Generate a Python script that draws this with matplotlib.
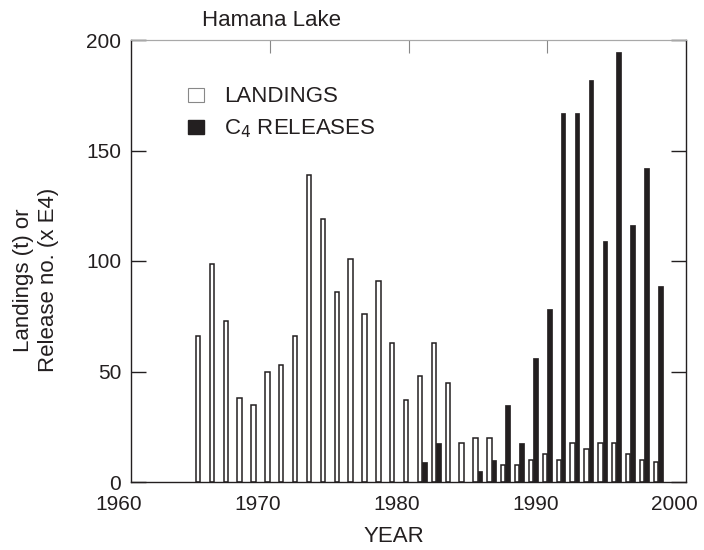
import numpy as np
import matplotlib
matplotlib.use("Agg")
from matplotlib import pyplot as plt
from matplotlib.patches import Patch
import matplotlib.transforms as mtransforms

# Hamana Lake landings (t) and C4 releases (x 10^4) by year
years = list(range(1965, 1999))
landings = [66, 98.5, 73, 38, 35, 50, 53, 66, 139, 119, 86, 101, 76, 91,
            63, 37, 48, 63, 45, 17.5, 20, 20, 7.5, 7.5, 10, 12.5, 10, 17.5,
            15, 17.5, 17.5, 12.5, 10, 9]
releases = [0, 0, 0, 0, 0, 0, 0, 0, 0, 0, 0, 0, 0, 0,
            0, 0, 9, 17.5, 0, 0, 5, 10, 35, 17.5, 56, 78.5, 167, 167,
            182, 109, 194.5, 116.5, 142, 88.5]

ink = '#231f20'
plt.rcParams['font.family'] = ['Liberation Sans', 'DejaVu Sans']

fig = plt.figure(figsize=(7.04, 5.5), dpi=100)
ax = fig.add_axes([131 / 704, 1 - 482 / 550, 555 / 704, 442 / 550])

x = np.array(years)
bw = 0.32
ax.bar(x - 0.17, landings, bw, color='white', edgecolor=ink, linewidth=1.1)
rel = np.array(releases, dtype=float)
mask = rel > 0
ax.bar(x[mask] + 0.15, rel[mask], bw, color=ink, edgecolor=ink, linewidth=0.5)

ax.set_xlim(1960, 2000)
ax.set_ylim(0, 200)
ax.set_xticks([1960, 1970, 1980, 1990, 2000])
ax.set_yticks([0, 50, 100, 150, 200])
ax.tick_params(axis='both', direction='in', labelsize=15, colors=ink)
ax.tick_params(axis='x', length=0, pad=9)
ax.tick_params(axis='y', length=11, width=1.0, right=True, pad=7)

# year labels sit a little left of their ticks in the original
shift = mtransforms.ScaledTranslation(-12 / 100, 0, fig.dpi_scale_trans)
for lab in ax.get_xticklabels():
    lab.set_transform(lab.get_transform() + shift)

# top ticks
sec = ax.secondary_xaxis('top')
sec.set_xticks([1970, 1980, 1990])
sec.tick_params(direction='in', length=9, labeltop=False, colors='#888888')
sec.spines['top'].set_color('#a8a8a8')

for side in ['left', 'right', 'bottom']:
    ax.spines[side].set_color(ink)
    ax.spines[side].set_linewidth(1.0)
ax.spines['top'].set_color('#a8a8a8')

ax.set_xlabel('YEAR', fontsize=16, color=ink, va='center')
ax.xaxis.set_label_coords((394 - 131) / 555, (482 - 536) / 442)

fig.text(36 / 704, 1 - 280 / 550, 'Landings (t) or\nRelease no. (x E4)',
         fontsize=16, color=ink, rotation=90, ha='center', va='center',
         multialignment='center', linespacing=1.3)

fig.text(202 / 704, 1 - 21 / 550, 'Hamana Lake', fontsize=16, color=ink,
         ha='left', va='center')

handles = [Patch(facecolor='white', edgecolor='#888888', linewidth=0.8),
           Patch(facecolor=ink, edgecolor=ink)]
ax.legend(handles, ['LANDINGS', 'C$_4$ RELEASES'], loc='upper left',
          bbox_to_anchor=(0.103, 0.895), frameon=False, fontsize=16,
          handlelength=0.7, handleheight=0.6, handletextpad=0.9,
          labelspacing=0.45, borderaxespad=0, borderpad=0,
          labelcolor=ink)

plt.savefig('out.png', dpi=100)
